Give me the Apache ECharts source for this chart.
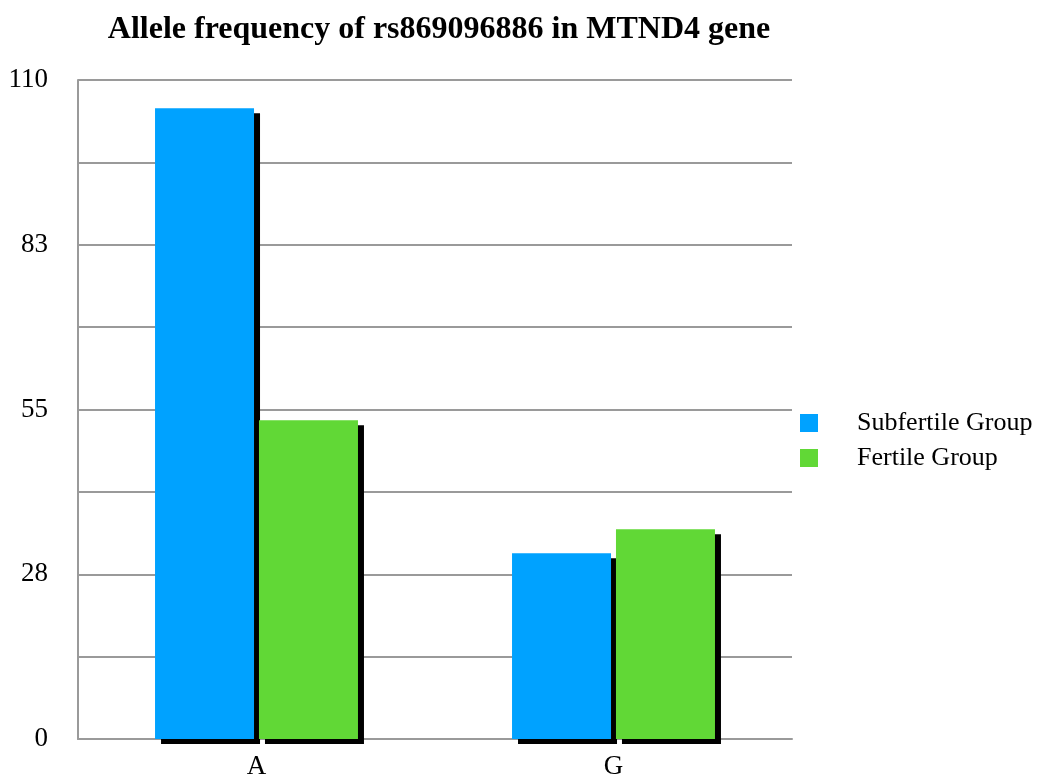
<!DOCTYPE html>
<html>
<head>
<meta charset="utf-8">
<script src="https://cdn.jsdelivr.net/npm/echarts@6/dist/echarts.min.js"></script>
<style>html,body{margin:0;padding:0;background:#fff;}#c{width:1041px;height:783px;}</style>
</head>
<body>
<div id="c"></div>
<script>
var categories = ['A', 'G'];
var seriesNames = ['Subfertile Group', 'Fertile Group'];
var subfertile = [105.3, 31];
var fertile = [53.2, 35];
var yMin = 0, yMax = 110, yStep = 13.75;

var chart = echarts.init(document.getElementById('c'), null, {renderer: 'canvas'});
var font = '"Liberation Serif", "Times New Roman", serif';
var barStyle = function (color) {
  return {color: color, shadowColor: '#000', shadowOffsetX: 6, shadowOffsetY: 5, shadowBlur: 0};
};
chart.setOption({
  animation: false,
  backgroundColor: '#fff',
  title: {
    text: 'Allele frequency of rs869096886 in MTND4 gene',
    left: 439, top: 14, textAlign: 'center', padding: 0,
    textStyle: {fontFamily: font, fontWeight: 'bold', fontSize: 32, color: '#000'}
  },
  legend: {
    orient: 'vertical', left: 800, top: 410, padding: 0,
    itemWidth: 18, itemHeight: 18, itemGap: 9,
    icon: 'rect',
    data: seriesNames,
    textStyle: {fontFamily: font, fontSize: 26, color: '#000', padding: [0, 0, 0, 34]}
  },
  grid: {left: 78, right: 249, top: 80, bottom: 44, containLabel: false},
  xAxis: {
    type: 'category', data: categories,
    axisLine: {show: true, lineStyle: {color: '#9a9a9a', width: 2}},
    axisTick: {show: false},
    axisLabel: {fontFamily: font, fontSize: 27, color: '#000', margin: 14}
  },
  yAxis: {
    type: 'value', min: yMin, max: yMax, interval: yStep,
    axisLine: {show: true, lineStyle: {color: '#9a9a9a', width: 2}},
    axisTick: {show: false},
    splitLine: {show: true, lineStyle: {color: '#9a9a9a', width: 2}},
    axisLabel: {
      fontFamily: font, fontSize: 27, color: '#000', margin: 30,
      formatter: function (v) {
        var k = Math.round(v / yStep);
        return k % 2 === 0 ? String(Math.round(v)) : '';
      }
    }
  },
  series: [
    {name: seriesNames[0], type: 'bar', data: subfertile, barWidth: 99, barGap: '5%', itemStyle: barStyle('#00A2FF')},
    {name: seriesNames[1], type: 'bar', data: fertile, barWidth: 99, barGap: '5%', itemStyle: barStyle('#61D836')}
  ]
});
</script>
</body>
</html>
